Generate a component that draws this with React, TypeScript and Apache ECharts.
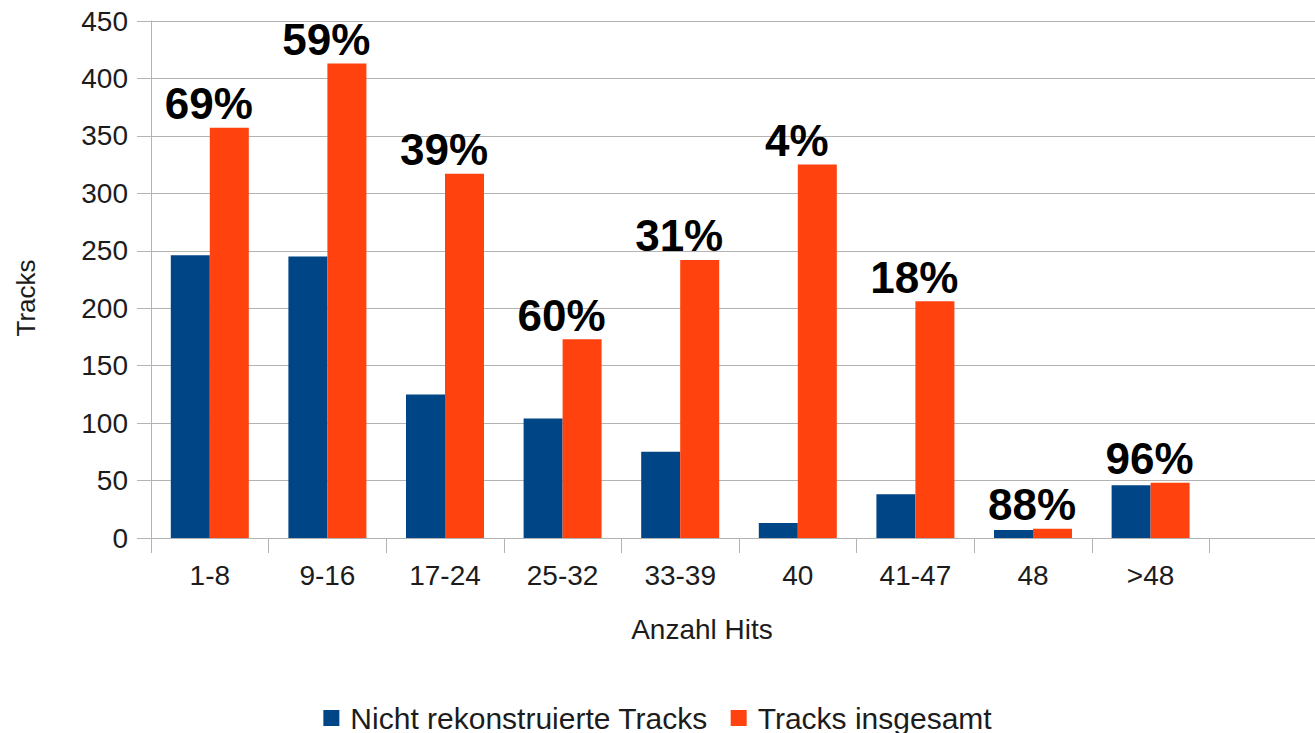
import { useEffect, useRef } from "react";
import * as echarts from "echarts";

// Hit-count bins on the x axis (the last, unlabeled slot is left empty)
const categories = ["1-8", "9-16", "17-24", "25-32", "33-39", "40", "41-47", "48", ">48"];
const axisCategories = [...categories, ""];

// Track counts per bin
const notReconstructed = [246, 245, 125, 104, 75, 13, 38, 7, 46];
const totalTracks = [357, 413, 317, 173, 242, 325, 206, 8, 48];

const seriesNames = ["Nicht rekonstruierte Tracks", "Tracks insgesamt"];
const yMin = 0;
const yMax = 450;
const yStep = 50;

const FONT = "'Liberation Sans', Arial, sans-serif";
const TEXT = "#1c1c1c";
const GRID = "#b3b3b3";
const BLUE = "#004586";
const ORANGE = "#ff420e";

// Share of non-reconstructed tracks in a bin, as a rounded percentage
const share = (i: number) => Math.round((notReconstructed[i] / totalTracks[i]) * 100) + "%";

export default function App() {
  const ref = useRef<HTMLDivElement>(null);

  useEffect(() => {
    const chart = echarts.init(ref.current!, undefined, { renderer: "svg" });
    chart.setOption({
      animation: false,
      textStyle: { fontFamily: FONT },
      grid: {
        left: 151,
        right: -12,
        top: 21,
        bottom: 195,
        containLabel: false,
        outerBoundsMode: "none",
      },
      legend: {
        data: seriesNames,
        left: "center",
        top: 698,
        icon: "rect",
        itemWidth: 16,
        itemHeight: 16,
        itemGap: 23,
        textStyle: { fontSize: 30, color: TEXT, fontFamily: FONT, padding: [0, 0, 0, 6] },
      },
      xAxis: {
        type: "category",
        data: axisCategories,
        name: "Anzahl Hits",
        nameLocation: "middle",
        nameGap: 77,
        nameTextStyle: { fontSize: 28, color: TEXT, fontFamily: FONT, padding: [0, 74, 0, 0] },
        axisLine: { lineStyle: { color: GRID, width: 1 } },
        axisTick: { show: true, interval: 0, length: 15, lineStyle: { color: GRID } },
        axisLabel: { fontSize: 28, color: TEXT, margin: 23, interval: 0, fontFamily: FONT },
        splitLine: { show: false },
      },
      yAxis: {
        type: "value",
        min: yMin,
        max: yMax,
        interval: yStep,
        name: "Tracks",
        nameLocation: "middle",
        nameGap: 112,
        nameTextStyle: { fontSize: 26, color: TEXT, fontFamily: FONT, padding: [0, 37, 0, 0] },
        axisLine: { show: true, lineStyle: { color: GRID, width: 1 } },
        axisTick: { show: true, length: 14, lineStyle: { color: GRID } },
        axisLabel: { fontSize: 28, color: TEXT, margin: 23, fontFamily: FONT },
        splitLine: { show: true, lineStyle: { color: GRID, width: 1 } },
      },
      series: [
        {
          name: seriesNames[0],
          type: "bar",
          data: notReconstructed,
          barWidth: 39,
          barGap: "0%",
          itemStyle: { color: BLUE },
        },
        {
          name: seriesNames[1],
          type: "bar",
          data: totalTracks,
          barWidth: 39,
          barGap: "0%",
          itemStyle: { color: ORANGE },
          label: {
            show: true,
            position: "top",
            distance: 2,
            offset: [-20.5, 0],
            fontSize: 44,
            fontWeight: "bold",
            color: "#000",
            fontFamily: FONT,
            formatter: (p: { dataIndex: number }) => share(p.dataIndex),
          },
        },
      ],
    });
    return () => chart.dispose();
  }, []);

  return (
    <div
      ref={ref}
      style={{ position: "fixed", left: 0, top: 0, width: 1315, height: 733, background: "#fff" }}
    />
  );
}
